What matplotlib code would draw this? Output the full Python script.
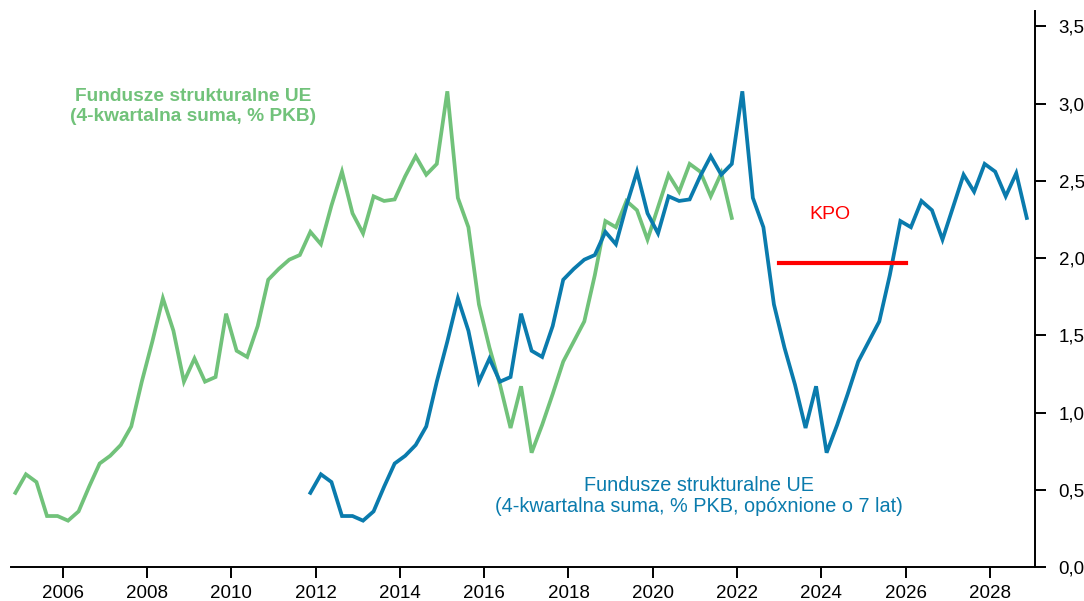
import numpy as np
import matplotlib
matplotlib.use("Agg")
import matplotlib.pyplot as plt
from matplotlib.ticker import FuncFormatter

plt.rcParams["font.family"] = ["Liberation Sans", "DejaVu Sans"]

# Fundusze strukturalne UE, 4-kwartalna suma (% PKB), dane kwartalne od IV kw. 2004
funds = [
    0.48, 0.60, 0.55, 0.33, 0.33, 0.30, 0.36, 0.52, 0.67, 0.72,
    0.79, 0.91, 1.20, 1.46, 1.74, 1.53, 1.20, 1.35, 1.20, 1.23,
    1.64, 1.40, 1.36, 1.56, 1.86, 1.93, 1.99, 2.02, 2.17, 2.09,
    2.34, 2.56, 2.29, 2.16, 2.40, 2.37, 2.38, 2.53, 2.66, 2.54,
    2.61, 3.08, 2.39, 2.20, 1.70, 1.42, 1.18, 0.90, 1.17, 0.74,
    0.92, 1.12, 1.33, 1.46, 1.59, 1.89, 2.24, 2.20, 2.37, 2.31,
    2.12, 2.33, 2.54, 2.43, 2.61, 2.56, 2.40, 2.55, 2.26,
]
start_year = 2004.875
lag_years = 7

kpo_value = 1.97
kpo_start, kpo_end = 2023.0, 2026.0

x_ticks = list(range(2006, 2029, 2))
y_ticks = [0.0, 0.5, 1.0, 1.5, 2.0, 2.5, 3.0, 3.5]

GREEN = "#71C27A"
BLUE = "#0A7BAD"
RED = "#FF0000"

x = start_year + 0.25 * np.arange(len(funds))
x_lag = x + lag_years

fig = plt.figure(figsize=(10.84, 6.01), dpi=100)
ax = fig.add_axes([0.0101, 0.0566, 0.9447, 0.9251])

ax.plot(x, funds, color=GREEN, lw=2.7, solid_joinstyle="miter")
ax.plot(x_lag, funds, color=BLUE, lw=2.7, solid_joinstyle="miter")
ax.plot([kpo_start, kpo_end], [kpo_value, kpo_value], color=RED, lw=3.0)

ax.text(2024.2, 2.28, "KPO", color=RED, fontsize=14, ha="center", va="center")
ax.text(2009.1, 2.98, "Fundusze strukturalne UE\n(4-kwartalna suma, % PKB)",
        color=GREEN, fontsize=13.8, fontweight="bold", ha="center", va="center",
        linespacing=1.2)
ax.text(2021.1, 0.46, "Fundusze strukturalne UE\n(4-kwartalna suma, % PKB, opóxnione o 7 lat)",
        color=BLUE, fontsize=14.3, ha="center", va="center", linespacing=1.15)

ax.set_xlim(2004.77, 2029.07)
ax.set_ylim(0, 3.6)

ax.set_xticks(x_ticks)
ax.set_xticklabels([str(t) for t in x_ticks])
ax.set_yticks(y_ticks)
ax.yaxis.set_major_formatter(FuncFormatter(lambda v, _: f"{v:.1f}".replace(".", ",")))
ax.yaxis.tick_right()

for side in ["top", "left"]:
    ax.spines[side].set_visible(False)
for side in ["bottom", "right"]:
    ax.spines[side].set_linewidth(1.4)
    ax.spines[side].set_color("black")

ax.tick_params(axis="x", direction="out", length=8, width=1.4, labelsize=13.5, pad=5)
ax.tick_params(axis="y", direction="out", length=8, width=1.4, labelsize=13.5, pad=9)

fig.savefig("out.png", dpi=100)
